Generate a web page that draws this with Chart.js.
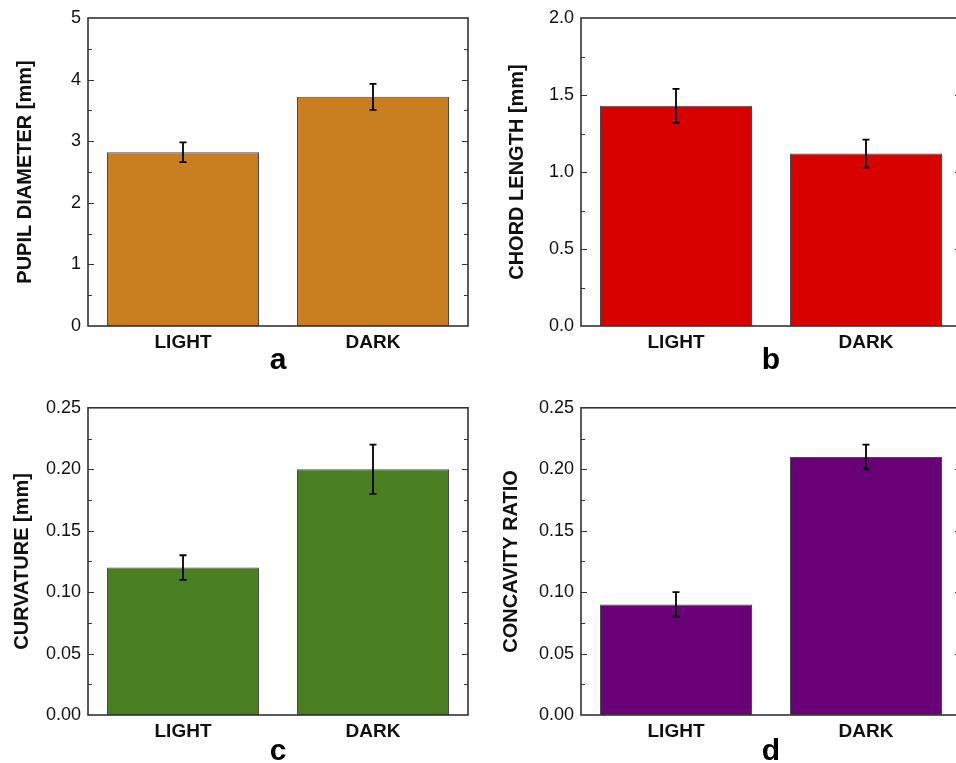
<!DOCTYPE html>
<html>
<head>
<meta charset="utf-8">
<script src="https://cdn.jsdelivr.net/npm/chart.js@4.4.1/dist/chart.umd.min.js"></script>
<style>
  html, body { margin: 0; padding: 0; background: #fff; overflow: hidden; }
  body { width: 956px; height: 763px; position: relative; }
  canvas { position: absolute; }
</style>
</head>
<body>
<canvas id="panelA" width="478" height="390" style="left:0;top:0"></canvas>
<canvas id="panelB" width="488" height="390" style="left:478px;top:0"></canvas>
<canvas id="panelC" width="478" height="390" style="left:0;top:390px"></canvas>
<canvas id="panelD" width="488" height="390" style="left:478px;top:390px"></canvas>
<script>
// data
const categories = ['LIGHT', 'DARK'];

const pupilDiameter = [2.82, 3.72];
const pupilDiameterErr = [0.16, 0.21];

const chordLength = [1.43, 1.12];
const chordLengthErr = [0.11, 0.09];

const curvature = [0.12, 0.20];
const curvatureErr = [0.01, 0.02];

const concavityRatio = [0.09, 0.21];
const concavityRatioErr = [0.01, 0.01];

const FONT = "'Liberation Sans', Arial, sans-serif";

// inward ticks, frame and error bars, all placed through the chart scales
const extras = {
  id: 'extras',
  afterDatasetsDraw(chart, args, opts) {
    const { ctx, chartArea: a, scales: { x, y } } = chart;
    const meta = chart.getDatasetMeta(0);
    ctx.save();

    // error bars
    ctx.strokeStyle = '#000';
    ctx.lineWidth = 1.8;
    meta.data.forEach((bar, i) => {
      const v = chart.data.datasets[0].data[i];
      const e = opts.err[i];
      const top = y.getPixelForValue(v + e);
      const bot = y.getPixelForValue(v - e);
      ctx.beginPath();
      ctx.moveTo(bar.x, top); ctx.lineTo(bar.x, bot);
      ctx.moveTo(bar.x - 3.5, top); ctx.lineTo(bar.x + 3.5, top);
      ctx.moveTo(bar.x - 3.5, bot); ctx.lineTo(bar.x + 3.5, bot);
      ctx.stroke();
    });

    // minor + major ticks on both vertical sides
    ctx.strokeStyle = '#333';
    ctx.lineWidth = 1.2;
    const step = y.options.ticks.stepSize / 2;
    const n = Math.round(y.max / step);
    for (let k = 1; k < n; k++) {
      const py = Math.round(y.getPixelForValue(k * step)) + 0.5;
      const len = k % 2 === 0 ? 6 : 4;
      ctx.beginPath();
      ctx.moveTo(a.left, py); ctx.lineTo(a.left + len, py);
      ctx.moveTo(a.right, py); ctx.lineTo(a.right - len, py);
      ctx.stroke();
    }

    // frame
    ctx.lineWidth = 1.6;
    ctx.strokeRect(a.left, a.top, a.right - a.left, a.bottom - a.top);
    ctx.restore();
  }
};

function makePanel(id, values, errs, color, yMax, yStep, decimals, yTitle, letter, geo) {
  return new Chart(document.getElementById(id), {
    type: 'bar',
    data: {
      labels: categories,
      datasets: [{
        data: values,
        backgroundColor: color,
        borderColor: '#4a4a4a',
        borderWidth: 1,
        borderSkipped: false,
        categoryPercentage: 1,
        barPercentage: 0.8
      }]
    },
    options: {
      responsive: false,
      animation: false,
      events: [],
      layout: { padding: { left: 0, top: geo.top, right: geo.right, bottom: 0 } },
      plugins: {
        legend: { display: false },
        tooltip: { enabled: false },
        extras: { err: errs }
      },
      scales: {
        x: {
          grid: { display: false, drawTicks: false },
          border: { display: false },
          ticks: {
            color: '#111',
            padding: 5,
            font: { family: FONT, size: 19, weight: 'bold' }
          },
          title: {
            display: true,
            text: letter,
            color: '#000',
            padding: { top: 0, bottom: geo.letterPad },
            font: { family: FONT, size: 30, weight: 'bold', lineHeight: 1.2 }
          },
          afterFit(scale) { scale.height = geo.xHeight; }
        },
        y: {
          min: 0,
          max: yMax,
          grid: { display: false, drawTicks: false },
          border: { display: false },
          ticks: {
            stepSize: yStep,
            color: '#111',
            padding: 7,
            font: { family: FONT, size: 18 },
            callback: v => Number(v).toFixed(decimals)
          },
          title: {
            display: true,
            text: yTitle,
            color: '#111',
            padding: { top: geo.titlePad, bottom: 0 },
            font: { family: FONT, size: 20, weight: 'bold', lineHeight: 1.2 }
          },
          afterFit(scale) { scale.width = geo.yWidth; }
        }
      }
    },
    plugins: [extras]
  });
}

makePanel('panelA', pupilDiameter, pupilDiameterErr, '#c97f20', 5, 1, 0,
  'PUPIL DIAMETER [mm]', 'a', { top: 18, right: 10, xHeight: 64, yWidth: 88, titlePad: 13, letterPad: 11 });
makePanel('panelB', chordLength, chordLengthErr, '#d90000', 2, 0.5, 1,
  'CHORD LENGTH [mm]', 'b', { top: 18, right: 5, xHeight: 64, yWidth: 103, titlePad: 27, letterPad: 11 });
makePanel('panelC', curvature, curvatureErr, '#497e21', 0.25, 0.05, 2,
  'CURVATURE [mm]', 'c', { top: 17, right: 10, xHeight: 65, yWidth: 88, titlePad: 10, letterPad: 10 });
makePanel('panelD', concavityRatio, concavityRatioErr, '#6a0077', 0.25, 0.05, 2,
  'CONCAVITY RATIO', 'd', { top: 17, right: 5, xHeight: 65, yWidth: 103, titlePad: 21, letterPad: 10 });
</script>
</body>
</html>
